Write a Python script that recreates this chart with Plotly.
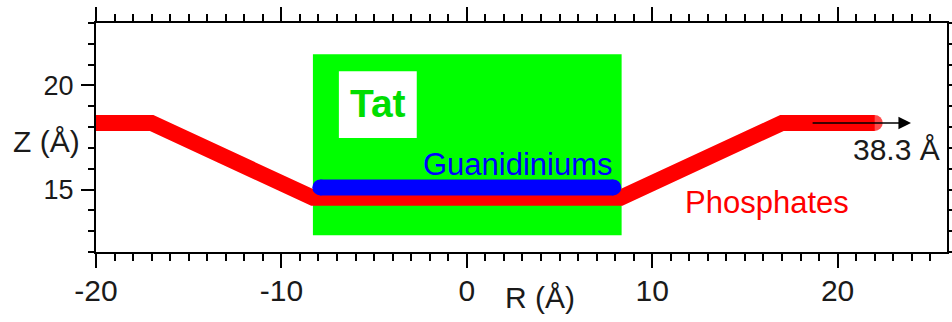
import plotly.graph_objects as go

# Data
phos_r = [-20.5, -17.0, -8.3, 8.3, 17.0, 22.0]
phos_z = [18.2, 18.2, 14.6, 14.6, 18.2, 18.2]
guan_r = [-7.9, 7.9]
guan_z = [15.1, 15.1]
tat_r = [-8.3, 8.35]
tat_z = [12.8, 21.5]
tatbox_r = [-6.9, -2.7]
tatbox_z = [17.47, 20.68]
arrow_r = [18.57, 23.96]
arrow_z = [18.2, 18.2]
x_ticks = [-20, -10, 0, 10, 20]
x_ticktext = ["-20", "-10", "0", "10", "20"]
y_ticks = [15, 20]
y_ticktext = ["15", "20"]

FONT = "Liberation Sans, Arial, sans-serif"
RED = "#ff0000"
BLUE = "#0000ff"
GREEN = "#00ff00"

fig = go.Figure()

fig.add_shape(type="rect", x0=tat_r[0], x1=tat_r[1], y0=tat_z[0], y1=tat_z[1],
              xref="x", yref="y", fillcolor=GREEN, line=dict(width=0), layer="below")
fig.add_shape(type="rect", x0=tatbox_r[0], x1=tatbox_r[1], y0=tatbox_z[0], y1=tatbox_z[1],
              xref="x", yref="y", fillcolor="white", line=dict(width=0), layer="below")

fig.add_trace(go.Scatter(x=phos_r, y=phos_z, mode="lines+markers",
                         line=dict(color=RED, width=16),
                         marker=dict(color=RED, size=[0, 0, 0, 0, 0, 16], line=dict(width=0)),
                         hoverinfo="skip", showlegend=False, cliponaxis=True))
fig.add_trace(go.Scatter(x=guan_r, y=guan_z, mode="lines+markers",
                         line=dict(color=BLUE, width=16),
                         marker=dict(color=BLUE, size=16, line=dict(width=0)),
                         hoverinfo="skip", showlegend=False))

fig.add_annotation(x=arrow_r[1], y=arrow_z[1], ax=arrow_r[0], ay=arrow_z[0],
                   xref="x", yref="y", axref="x", ayref="y", text="",
                   showarrow=True, arrowhead=2, arrowsize=1.8, arrowwidth=1.4,
                   arrowcolor="black", standoff=0, startstandoff=0)

def txt(x, y, s, color, size, bold=False, xref="x", yref="y"):
    fig.add_annotation(x=x, y=y, xref=xref, yref=yref, text=("<b>%s</b>" % s) if bold else s,
                       showarrow=False, xanchor="center", yanchor="middle",
                       font=dict(family=FONT, size=size, color=color))

txt(-4.78, 19.15, "Tat", "#00dd00", 39, bold=True)
txt(2.78, 16.18, "Guanidiniums", BLUE, 31)
txt(16.2, 14.4, "Phosphates", RED, 31)
txt(23.2, 16.94, "38.3 Å", "#1a1a1a", 30)
txt(-0.058, 0.484, "Z (Å)", "#1a1a1a", 30, xref="paper", yref="paper")
txt(3.95, -0.2, "R (Å)", "#1a1a1a", 30, yref="paper")

axis_common = dict(showline=True, linecolor="black", linewidth=2, mirror="ticks",
                   ticks="outside", tickwidth=2, tickcolor="black",
                   showgrid=False, zeroline=False, automargin=False)

fig.update_xaxes(range=[-20, 25.9], tickvals=x_ticks, ticktext=x_ticktext, ticklen=14,
                 ticklabelstandoff=-3,
                 minor=dict(ticks="outside", ticklen=7, dtick=1, tick0=0, tickwidth=2,
                            tickcolor="black", showgrid=False),
                 tickfont=dict(family=FONT, size=30, color="#1a1a1a"), **axis_common)
fig.update_yaxes(range=[12, 23], tickvals=y_ticks, ticktext=y_ticktext, ticklen=13,
                 ticklabelstandoff=2,
                 minor=dict(ticks="outside", ticklen=6, dtick=1, tick0=0, tickwidth=2,
                            tickcolor="black", showgrid=False),
                 tickfont=dict(family=FONT, size=27, color="#1a1a1a"), **axis_common)

fig.update_layout(width=952, height=322, margin=dict(l=96, r=5, t=23, b=70),
                  template="none",
                  plot_bgcolor="white", paper_bgcolor="white", showlegend=False)

fig.write_html("out.html")
